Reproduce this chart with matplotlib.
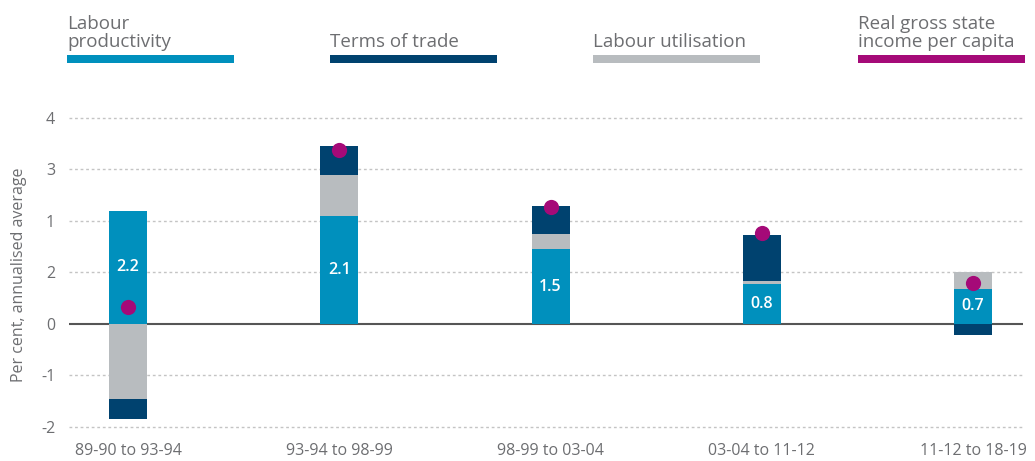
import numpy as np
import matplotlib
matplotlib.use("Agg")
import matplotlib.pyplot as plt
from matplotlib.patches import Rectangle

# ---- Data ----
periods = ["89-90 to 93-94", "93-94 to 98-99", "98-99 to 03-04",
           "03-04 to 11-12", "11-12 to 18-19"]
labour_productivity = [2.2, 2.1, 1.45, 0.78, 0.68]
labour_utilisation = [-1.45, 0.8, 0.3, 0.05, 0.32]
terms_of_trade = [-0.4, 0.55, 0.54, 0.9, -0.22]
real_gsi = [0.32, 3.37, 2.27, 1.76, 0.8]
bar_labels = ["2.2", "2.1", "1.5", "0.8", "0.7"]

ytick_pos = [4, 3, 2, 1, 0, -1, -2]
ytick_labels = ["4", "3", "1", "2", "0", "-1", "-2"]

series = [
    ("Labour\nproductivity", labour_productivity, "#0090bd"),
    ("Terms of trade", terms_of_trade, "#00426f"),
    ("Labour utilisation", labour_utilisation, "#b8bcbf"),
    ("Real gross state\nincome per capita", real_gsi, "#a50a78"),
]
stack_order = [labour_productivity, labour_utilisation, terms_of_trade]
stack_colors = ["#0090bd", "#b8bcbf", "#00426f"]

plt.rcParams["font.family"] = ["Open Sans", "DejaVu Sans"]
text_grey = "#6d6e71"

fig = plt.figure(figsize=(10.35, 4.61), dpi=100)
ax = fig.add_axes([0.0667, 0.0514, 0.9217, 0.704])

x = np.arange(len(periods))
width = 0.18

# ---- Stacked bars ----
pos_base = np.zeros(len(x))
neg_base = np.zeros(len(x))
for vals, col in zip(stack_order, stack_colors):
    vals = np.array(vals)
    bottom = np.where(vals >= 0, pos_base, neg_base)
    ax.bar(x, vals, width, bottom=bottom, color=col, zorder=3, linewidth=0)
    pos_base += np.where(vals >= 0, vals, 0)
    neg_base += np.where(vals < 0, vals, 0)

for xi, v, lab in zip(x, labour_productivity, bar_labels):
    ax.text(xi, v / 2, lab, ha="center", va="center", color="white",
            fontsize=11.5, fontweight="semibold", zorder=5)

ax.scatter(x, real_gsi, s=120, color="#a50a78", zorder=6, linewidths=0)

# ---- Grid and axes ----
for y in ytick_pos:
    if y == 0:
        ax.axhline(0, color="#555555", lw=1.5, zorder=2)
    else:
        ax.axhline(y, color="#c4c4c4", lw=1, ls=(0, (2, 2)), zorder=1)

ax.set_xlim(-0.28, 4.237)
ax.set_ylim(-2.2, 4.1)
ax.set_yticks(ytick_pos)
ax.set_yticklabels(ytick_labels)
ax.set_xticks(x)
ax.set_xticklabels(periods)
ax.tick_params(axis="both", length=0, colors=text_grey, labelsize=11.5)
ax.tick_params(axis="y", pad=10)
ax.tick_params(axis="x", pad=4)
for s in ax.spines.values():
    s.set_visible(False)
ax.set_ylabel("Per cent, annualised average", color=text_grey, fontsize=11.5,
              labelpad=10)

# ---- Legend across the top ----
legend_x = [67, 330, 593, 858]
for (name, _, col), lx in zip(series, legend_x):
    fx = lx / 1035
    fig.text(fx, 1 - 47 / 461, name, ha="left", va="baseline",
             fontsize=13.5, color=text_grey, linespacing=1.0)
    fig.add_artist(Rectangle((fx, 1 - 63 / 461), 167 / 1035, 8 / 461,
                             transform=fig.transFigure, color=col, lw=0))

fig.savefig("out.png", dpi=100)
